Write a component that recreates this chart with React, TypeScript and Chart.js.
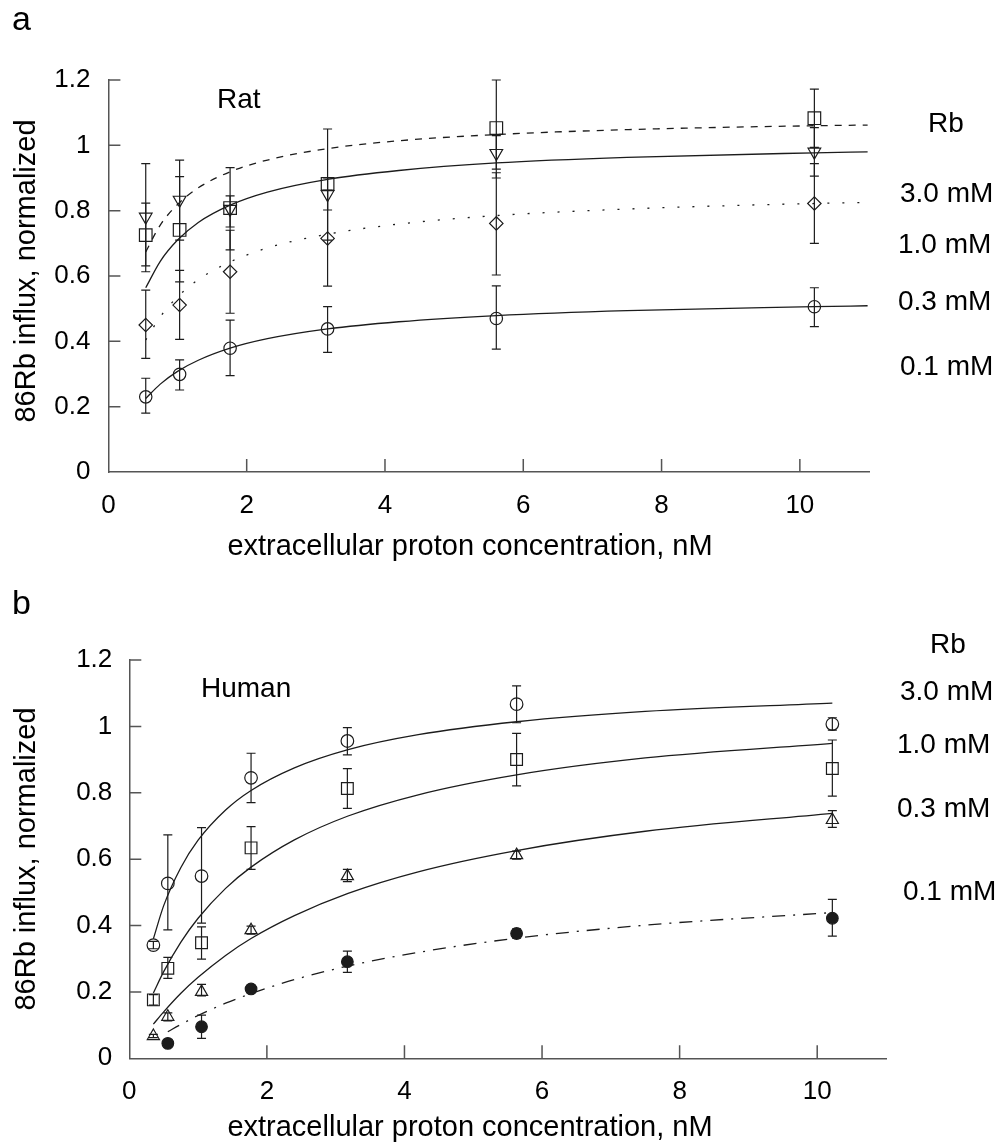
import React, { useEffect, useRef } from 'react';
import { Chart, registerables } from 'chart.js';

Chart.register(...registerables);

const FONT = '"Liberation Sans", Arial, Helvetica, sans-serif';
const INK = '#1c1c1c';
const AXIS = '#555555';

// ---- axes ----
const xMax = 11;
const yMax = 1.2;
const xTickValues = [0, 2, 4, 6, 8, 10];
const xTickLabels = ['0', '2', '4', '6', '8', '10'];
const yTickValues = [0, 0.2, 0.4, 0.6, 0.8, 1.0, 1.2];
const yTickLabels = ['0', '0.2', '0.4', '0.6', '0.8', '1', '1.2'];
const xTitle = 'extracellular proton concentration, nM';
const yTitle = '86Rb influx, normalized';
const concLabels = ['3.0 mM', '1.0 mM', '0.3 mM', '0.1 mM'];

// ---- panel a (Rat) ----
const ratX = [0.54, 1.03, 1.76, 3.17, 5.61, 10.21];
const ratSquare = [0.725, 0.741, 0.808, 0.882, 1.053, 1.083];
const ratSquareHi = [0.823, 0.904, 0.845, 1.05, 1.2, 1.172];
const ratSquareLo = [0.631, 0.582, 0.75, 0.71, 0.9, 0.994];
const ratTri = [0.781, 0.833, 0.805, 0.85, 0.976, 0.98];
const ratTriHi = [0.944, 0.955, 0.932, 0.9, 1.03, 1.054];
const ratTriLo = [0.613, 0.71, 0.68, 0.802, 0.927, 0.906];
const ratDiamond = [0.45, 0.511, 0.613, 0.715, 0.761, 0.822];
const ratDiamondHi = [0.557, 0.617, 0.74, 0.862, 0.916, 0.944];
const ratDiamondLo = [0.348, 0.406, 0.486, 0.569, 0.603, 0.7];
const ratCircle = [0.23, 0.299, 0.379, 0.438, 0.47, 0.506];
const ratCircleHi = [0.287, 0.343, 0.465, 0.506, 0.57, 0.564];
const ratCircleLo = [0.18, 0.251, 0.295, 0.366, 0.376, 0.445];

const ratFitX = [0.54, 0.75, 1.0, 1.3, 1.76, 2.3, 3.17, 4.2, 5.61, 7.5, 10.21, 10.98];
const ratFitDashed = [0.674, 0.756, 0.819, 0.87, 0.919, 0.955, 0.99, 1.014, 1.033, 1.048, 1.06, 1.062];
const ratFitSolid = [0.564, 0.645, 0.71, 0.764, 0.817, 0.857, 0.896, 0.923, 0.946, 0.963, 0.977, 0.98];
const ratFitDotted = [0.404, 0.475, 0.536, 0.589, 0.643, 0.686, 0.728, 0.759, 0.785, 0.805, 0.822, 0.825];
const ratFitCircle = [0.225, 0.269, 0.308, 0.342, 0.379, 0.408, 0.438, 0.46, 0.479, 0.494, 0.506, 0.509];

// ---- panel b (Human) ----
const humanX = [0.35, 0.56, 1.05, 1.77, 3.17, 5.63, 10.22];
const humanCircle = [0.341, 0.527, 0.549, 0.845, 0.956, 1.067, 1.007];
const humanCircleHi = [0.352, 0.673, 0.695, 0.919, 0.996, 1.122, 1.026];
const humanCircleLo = [0.33, 0.387, 0.407, 0.77, 0.914, 1.011, 0.989];
const humanSquare = [0.176, 0.271, 0.348, 0.634, 0.813, 0.9, 0.873];
const humanSquareHi = [0.192, 0.304, 0.396, 0.698, 0.873, 0.979, 0.959];
const humanSquareLo = [0.16, 0.241, 0.299, 0.569, 0.753, 0.821, 0.79];
const humanTri = [0.067, 0.125, 0.2, 0.386, 0.549, 0.612, 0.718];
const humanTriHi = [0.072, 0.137, 0.223, 0.398, 0.569, 0.624, 0.746];
const humanTriLo = [0.062, 0.113, 0.188, 0.374, 0.532, 0.6, 0.696];
const humanFilledX = [0.56, 1.05, 1.77, 3.17, 5.63, 10.22];
const humanFilled = [0.045, 0.095, 0.209, 0.291, 0.376, 0.422];
const humanFilledHi = [0.045, 0.13, 0.22, 0.323, 0.39, 0.479];
const humanFilledLo = [0.045, 0.06, 0.198, 0.259, 0.362, 0.368];

const humanFitX = [0.35, 0.5, 0.75, 1.0, 1.4, 1.77, 2.4, 3.18, 4.2, 5.63, 7.5, 10.22];
const humanFitCircle = [0.36, 0.46, 0.575, 0.657, 0.748, 0.807, 0.875, 0.93, 0.975, 1.014, 1.045, 1.07];
const humanFitSquare = [0.197, 0.261, 0.35, 0.422, 0.512, 0.576, 0.658, 0.73, 0.794, 0.854, 0.905, 0.949];
const humanFitTri = [0.103, 0.14, 0.196, 0.244, 0.31, 0.361, 0.43, 0.497, 0.562, 0.626, 0.684, 0.738];
const humanFitFilledX = [0.56, 0.75, 1.0, 1.4, 1.77, 2.4, 3.18, 4.2, 5.63, 7.5, 10.22];
const humanFitFilled = [0.08, 0.102, 0.129, 0.166, 0.195, 0.237, 0.278, 0.319, 0.362, 0.401, 0.439];

function pts(xs: number[], ys: number[]) {
  return xs.map((x, i) => ({ x, y: ys[i] }));
}

function markerSet(xs: number[], ys: number[], hi: number[], lo: number[], style: string, radius: number, rotation = 0, filled = false) {
  return {
    data: pts(xs, ys),
    showLine: false,
    pointStyle: style,
    pointRadius: radius,
    pointHoverRadius: radius,
    pointRotation: rotation,
    pointBorderColor: INK,
    pointBackgroundColor: filled ? INK : 'rgba(0,0,0,0)',
    pointBorderWidth: 1.2,
    errHi: hi,
    errLo: lo,
  };
}

function curveSet(xs: number[], ys: number[], dash: number[]) {
  return {
    data: pts(xs, ys),
    showLine: true,
    pointRadius: 0,
    pointHoverRadius: 0,
    borderColor: INK,
    borderWidth: 1.3,
    borderDash: dash,
    tension: 0.4,
    cubicInterpolationMode: 'monotone',
    fill: false,
  };
}

type TextItem = { t: string; x: number; y: number; size: number };

type PanelCfg = {
  top: number;
  height: number;
  padTop: number;
  padRight: number;
  yAxisWidth: number;
  xAxisHeight: number;
  yTickPad: number;
  xTickPad: number;
  xTitleX: number;
  xTitleBaseline: number;
  yTitleX: number;
  yTitleY: number;
  datasets: any[];
  texts: TextItem[];
};

const panelA: PanelCfg = {
  top: 0,
  height: 575,
  padTop: 80,
  padRight: 130,
  yAxisWidth: 108.4,
  xAxisHeight: 103,
  yTickPad: 18,
  xTickPad: 18,
  xTitleX: 470,
  xTitleBaseline: 555,
  yTitleX: 27,
  yTitleY: 271,
  datasets: [
    markerSet(ratX, ratSquare, ratSquareHi, ratSquareLo, 'rect', 8.9),
    markerSet(ratX, ratTri, ratTriHi, ratTriLo, 'triangle', 7.3, 180),
    markerSet(ratX, ratDiamond, ratDiamondHi, ratDiamondLo, 'rectRot', 6.7),
    markerSet(ratX, ratCircle, ratCircleHi, ratCircleLo, 'circle', 6.2),
    curveSet(ratFitX, ratFitDashed, [7, 7]),
    curveSet(ratFitX, ratFitSolid, []),
    curveSet(ratFitX, ratFitDotted, [2, 13]),
    curveSet(ratFitX, ratFitCircle, []),
  ],
  texts: [
    { t: 'a', x: 12, y: 30, size: 34 },
    { t: 'Rat', x: 217, y: 108, size: 28 },
    { t: 'Rb', x: 928, y: 132, size: 28 },
    { t: concLabels[0], x: 900, y: 202, size: 28 },
    { t: concLabels[1], x: 898, y: 253, size: 28 },
    { t: concLabels[2], x: 898, y: 310, size: 28 },
    { t: concLabels[3], x: 900, y: 375, size: 28 },
  ],
};

const panelB: PanelCfg = {
  top: 575,
  height: 573,
  padTop: 85,
  padRight: 113,
  yAxisWidth: 129.3,
  xAxisHeight: 89.7,
  yTickPad: 17,
  xTickPad: 18,
  xTitleX: 470,
  xTitleBaseline: 561,
  yTitleX: 27,
  yTitleY: 284,
  datasets: [
    markerSet(humanX, humanCircle, humanCircleHi, humanCircleLo, 'circle', 6.3),
    markerSet(humanX, humanSquare, humanSquareHi, humanSquareLo, 'rect', 8.3),
    markerSet(humanX, humanTri, humanTriHi, humanTriLo, 'triangle', 7),
    markerSet(humanFilledX, humanFilled, humanFilledHi, humanFilledLo, 'circle', 5.8, 0, true),
    curveSet(humanFitX, humanFitCircle, []),
    curveSet(humanFitX, humanFitSquare, []),
    curveSet(humanFitX, humanFitTri, []),
    curveSet(humanFitFilledX, humanFitFilled, [13, 8, 2, 8]),
  ],
  texts: [
    { t: 'b', x: 12, y: 39, size: 34 },
    { t: 'Human', x: 201, y: 122, size: 28 },
    { t: 'Rb', x: 930, y: 78, size: 28 },
    { t: concLabels[0], x: 900, y: 125, size: 28 },
    { t: concLabels[1], x: 897, y: 178, size: 28 },
    { t: concLabels[2], x: 897, y: 242, size: 28 },
    { t: concLabels[3], x: 903, y: 325, size: 28 },
  ],
};

function makeDecor(cfg: PanelCfg) {
  return {
    id: 'decor',
    beforeDatasetsDraw(chart: any) {
      const { ctx, scales } = chart;
      const xs = scales.x;
      const ys = scales.y;
      ctx.save();
      ctx.strokeStyle = INK;
      ctx.lineWidth = 1.2;
      chart.data.datasets.forEach((ds: any) => {
        if (!ds.errHi) return;
        ds.data.forEach((p: any, i: number) => {
          const px = xs.getPixelForValue(p.x);
          const pHi = ys.getPixelForValue(ds.errHi[i]);
          const pLo = ys.getPixelForValue(ds.errLo[i]);
          if (Math.abs(pHi - pLo) < 1) return;
          ctx.beginPath();
          ctx.moveTo(px, pHi);
          ctx.lineTo(px, pLo);
          ctx.moveTo(px - 4.5, pHi);
          ctx.lineTo(px + 4.5, pHi);
          ctx.moveTo(px - 4.5, pLo);
          ctx.lineTo(px + 4.5, pLo);
          ctx.stroke();
        });
      });
      ctx.restore();
    },
    afterDraw(chart: any) {
      const { ctx, chartArea, scales } = chart;
      const xs = scales.x;
      const ys = scales.y;
      ctx.save();
      // inward tick marks
      ctx.strokeStyle = AXIS;
      ctx.lineWidth = 1.5;
      ctx.beginPath();
      yTickValues.forEach((v) => {
        if (v <= 0) return;
        const py = ys.getPixelForValue(v);
        ctx.moveTo(chartArea.left, py);
        ctx.lineTo(chartArea.left + 12, py);
      });
      xTickValues.forEach((v) => {
        if (v <= 0) return;
        const px = xs.getPixelForValue(v);
        ctx.moveTo(px, chartArea.bottom);
        ctx.lineTo(px, chartArea.bottom - 13);
      });
      ctx.stroke();
      ctx.fillStyle = '#000';
      // axis titles
      ctx.font = `29px ${FONT}`;
      ctx.textAlign = 'center';
      ctx.textBaseline = 'alphabetic';
      ctx.fillText(xTitle, cfg.xTitleX, cfg.xTitleBaseline);
      ctx.save();
      ctx.translate(cfg.yTitleX, cfg.yTitleY);
      ctx.rotate(-Math.PI / 2);
      ctx.textBaseline = 'middle';
      ctx.fillText(yTitle, 0, 0);
      ctx.restore();
      // annotations
      ctx.textAlign = 'left';
      ctx.textBaseline = 'alphabetic';
      cfg.texts.forEach((it) => {
        ctx.font = `${it.size}px ${FONT}`;
        ctx.fillText(it.t, it.x, it.y);
      });
      ctx.restore();
    },
  };
}

function makeConfig(cfg: PanelCfg): any {
  return {
    type: 'scatter',
    data: { datasets: cfg.datasets },
    options: {
      responsive: false,
      animation: false,
      events: [],
      layout: { padding: { left: 0, top: cfg.padTop, right: cfg.padRight, bottom: 0 } },
      plugins: { legend: { display: false }, tooltip: { enabled: false } },
      scales: {
        x: {
          type: 'linear',
          min: 0,
          max: xMax,
          afterBuildTicks: (s: any) => {
            s.ticks = xTickValues.map((v) => ({ value: v }));
          },
          afterFit: (s: any) => {
            s.height = cfg.xAxisHeight;
          },
          grid: { display: false, drawTicks: false },
          border: { display: true, color: AXIS, width: 1.5 },
          ticks: {
            color: '#000',
            font: { family: FONT, size: 26 },
            padding: cfg.xTickPad,
            maxRotation: 0,
            autoSkip: false,
            callback: (_v: any, i: number) => xTickLabels[i],
          },
          title: { display: false },
        },
        y: {
          type: 'linear',
          min: 0,
          max: yMax,
          afterBuildTicks: (s: any) => {
            s.ticks = yTickValues.map((v) => ({ value: v }));
          },
          afterFit: (s: any) => {
            s.width = cfg.yAxisWidth;
          },
          grid: { display: false, drawTicks: false },
          border: { display: true, color: AXIS, width: 1.5 },
          ticks: {
            color: '#000',
            font: { family: FONT, size: 26 },
            padding: cfg.yTickPad,
            autoSkip: false,
            callback: (_v: any, i: number) => yTickLabels[i],
          },
          title: { display: false },
        },
      },
    },
    plugins: [makeDecor(cfg)],
  };
}

function Panel({ cfg }: { cfg: PanelCfg }) {
  const ref = useRef<HTMLCanvasElement>(null);
  useEffect(() => {
    const chart = new Chart(ref.current as HTMLCanvasElement, makeConfig(cfg));
    return () => chart.destroy();
  }, [cfg]);
  return (
    <canvas
      ref={ref}
      width={999}
      height={cfg.height}
      style={{ position: 'absolute', left: 0, top: cfg.top, width: 999, height: cfg.height }}
    />
  );
}

export default function App() {
  return (
    <div style={{ position: 'absolute', left: 0, top: 0, width: 999, height: 1148, background: '#fff', overflow: 'hidden' }}>
      <Panel cfg={panelA} />
      <Panel cfg={panelB} />
    </div>
  );
}
